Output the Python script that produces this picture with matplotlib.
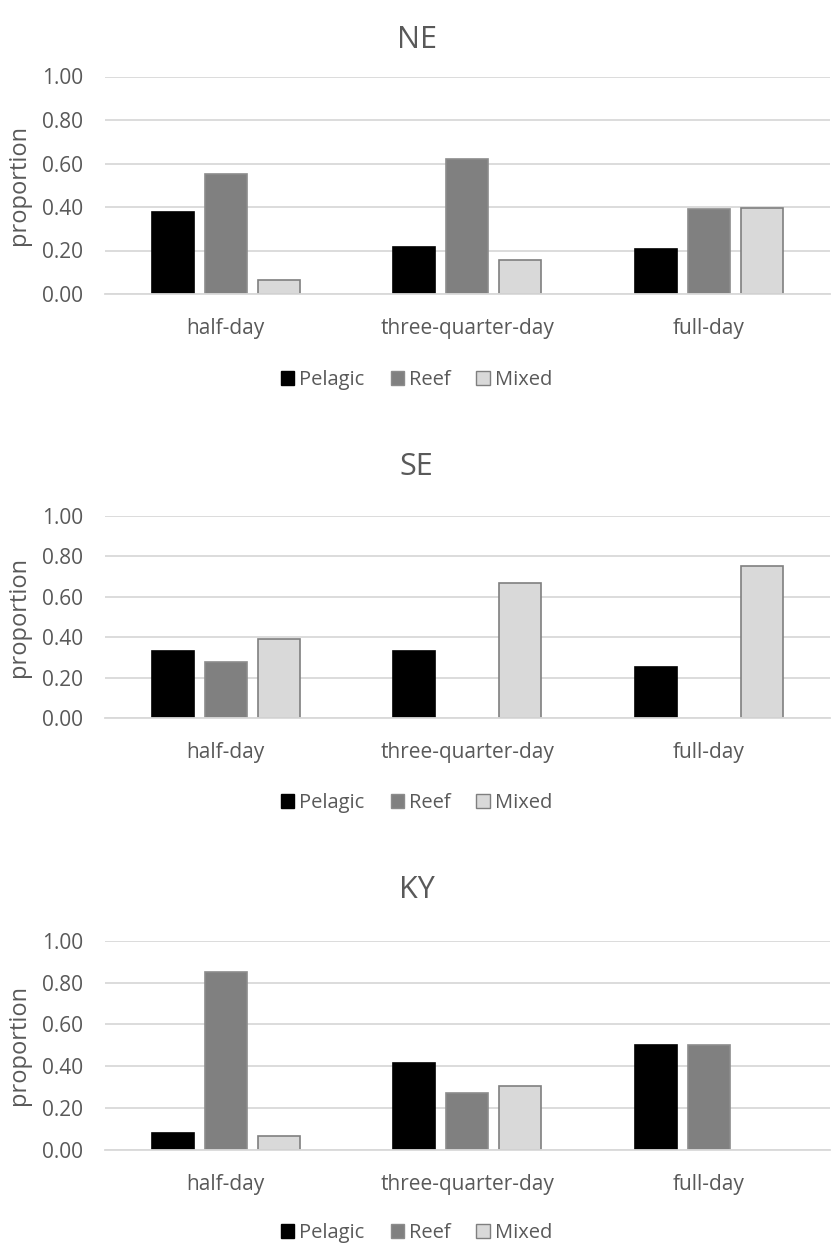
import matplotlib
matplotlib.use("Agg")
import matplotlib.pyplot as plt
import numpy as np
from matplotlib.patches import Patch

plt.rcParams['font.family'] = ['Open Sans', 'DejaVu Sans']

categories = ["half-day", "three-quarter-day", "full-day"]
series_names = ["Pelagic", "Reef", "Mixed"]
yticks = [0.0, 0.2, 0.4, 0.6, 0.8, 1.0]

NE_pelagic = [0.375, 0.217, 0.208]
NE_reef = [0.554, 0.620, 0.392]
NE_mixed = [0.065, 0.158, 0.395]

SE_pelagic = [0.333, 0.333, 0.250]
SE_reef = [0.278, 0.0, 0.0]
SE_mixed = [0.389, 0.667, 0.750]

KY_pelagic = [0.083, 0.417, 0.500]
KY_reef = [0.850, 0.273, 0.500]
KY_mixed = [0.067, 0.308, 0.0]

panels = [
    ("NE", [NE_pelagic, NE_reef, NE_mixed]),
    ("SE", [SE_pelagic, SE_reef, SE_mixed]),
    ("KY", [KY_pelagic, KY_reef, KY_mixed]),
]

W, H = 833, 1253
fig = plt.figure(figsize=(W / 100, H / 100), dpi=100)

# axes boxes in pixels: (top, bottom)
boxes = [(76.5, 294.0), (515.7, 718.0), (940.7, 1150.0)]
title_y = [40, 467, 890]
legend_y = [380, 803, 1233]
left_px, right_px = 105, 829.5

face = ["#000000", "#808080", "#d9d9d9"]
edge = ["#000000", "#8c8c8c", "#7f7f7f"]
text_col = "#595959"
bw = 42 / 241.5
step = 53 / 241.5

for (title, data), (top, bot), ty, ly in zip(panels, boxes, title_y, legend_y):
    ax = fig.add_axes([left_px / W, 1 - bot / H, (right_px - left_px) / W, (bot - top) / H])
    x = np.arange(len(categories))
    for i, (vals, fc, ec) in enumerate(zip(data, face, edge)):
        lws = [1.2 if v > 0 else 0 for v in vals]
        ax.bar(x + (i - 1) * step, vals, width=bw, color=fc, edgecolor=ec,
               linewidth=lws, zorder=3)
    ax.set_xlim(-0.5, 2.5)
    ax.set_ylim(0, 1.0)
    ax.set_yticks(yticks)
    ax.set_yticklabels([f"{t:.2f}" for t in yticks])
    ax.set_xticks(x)
    ax.set_xticklabels(categories)
    ax.tick_params(axis='both', length=0, labelsize=15, colors=text_col)
    ax.tick_params(axis='y', pad=16)
    ax.tick_params(axis='x', pad=17)
    ax.grid(axis='y', color="#d9d9d9", linewidth=1.3, zorder=0)
    for s in ["top", "right", "left"]:
        ax.spines[s].set_visible(False)
    ax.spines["bottom"].set_color("#d9d9d9")
    ax.spines["bottom"].set_linewidth(1.3)
    ax.spines["bottom"].set_zorder(4)
    ax.set_ylabel("proportion", fontsize=17, color=text_col, labelpad=8)
    fig.text(0.5, 1 - ty / H, title, ha="center", va="center", fontsize=22, color=text_col)
    handles = [Patch(facecolor=fc, edgecolor=ec, linewidth=1.0) for fc, ec in zip(face, edge)]
    fig.legend(handles, series_names, loc="center", bbox_to_anchor=(0.5, 1 - ly / H),
               ncol=3, frameon=False, fontsize=14.5, labelcolor=text_col,
               handlelength=0.65, handleheight=0.65, handletextpad=0.25, columnspacing=1.3)

fig.savefig("out.png", dpi=100, facecolor="white")
